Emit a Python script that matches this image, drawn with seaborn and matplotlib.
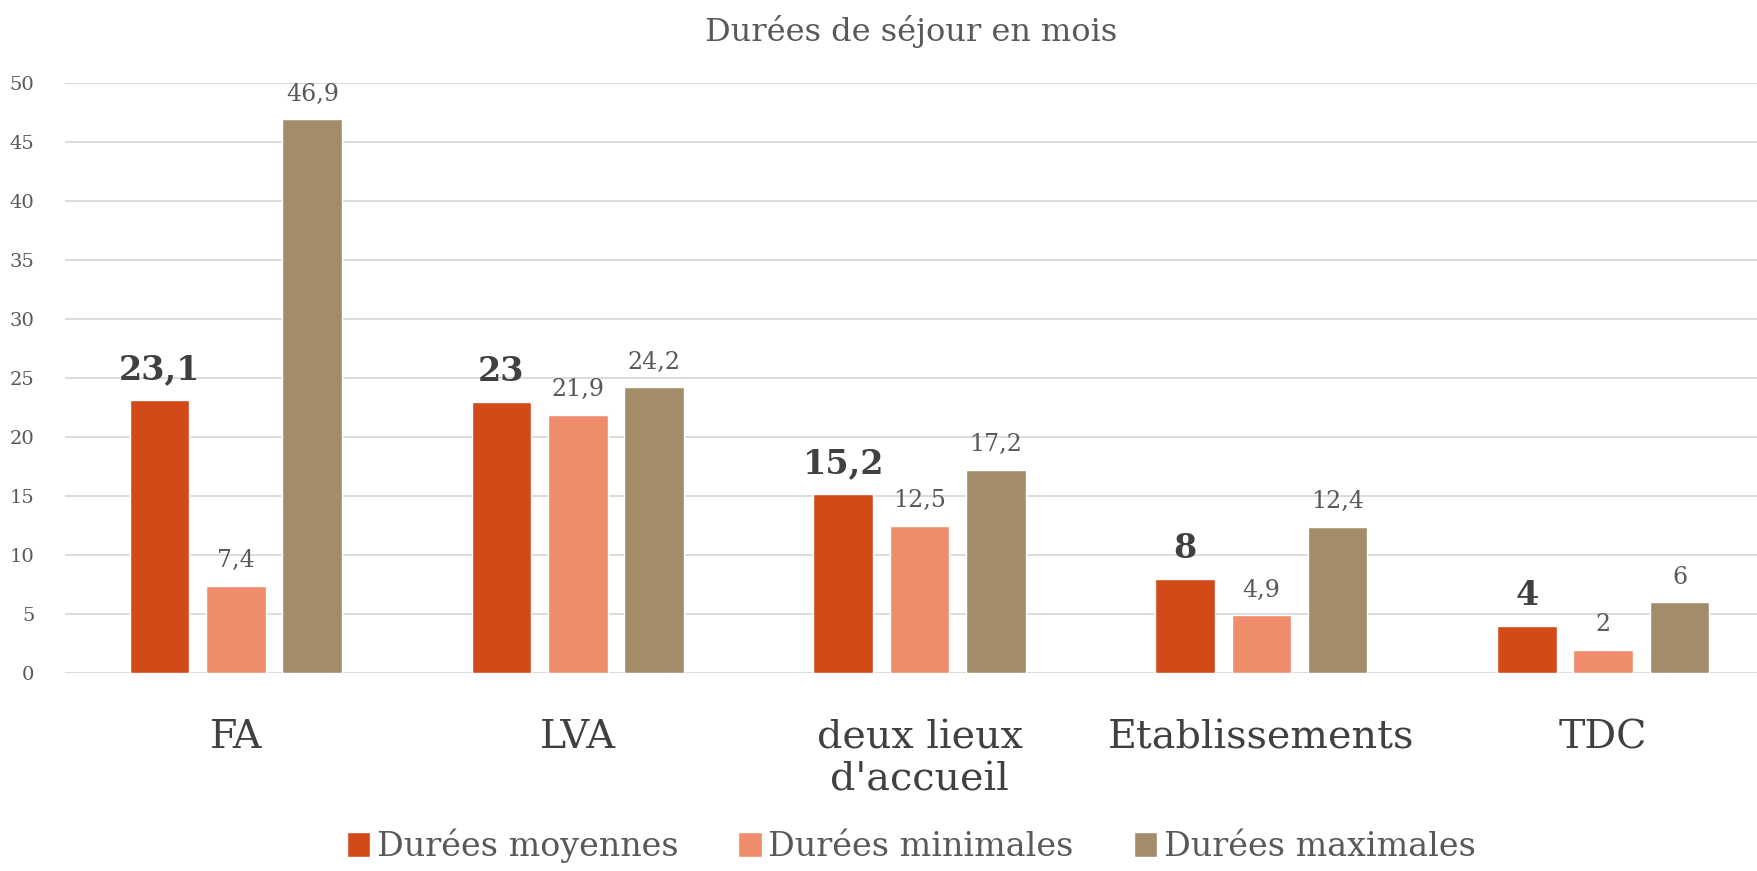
import matplotlib
matplotlib.use("Agg")
import matplotlib.pyplot as plt
import seaborn as sns
import pandas as pd

categories = ["FA", "LVA", "deux lieux\nd'accueil", "Etablissements", "TDC"]
series = ["Durées moyennes", "Durées minimales", "Durées maximales"]
moyennes = [23.1, 23, 15.2, 8, 4]
minimales = [7.4, 21.9, 12.5, 4.9, 2]
maximales = [46.9, 24.2, 17.2, 12.4, 6]
colors = ["#D24A18", "#EF8C6C", "#A38C6A"]
yticks = [0, 5, 10, 15, 20, 25, 30, 35, 40, 45, 50]

rows = []
for s, vals in zip(series, [moyennes, minimales, maximales]):
    for c, v in zip(categories, vals):
        rows.append({"cat": c, "serie": s, "val": v})
df = pd.DataFrame(rows)

sns.set_theme(style="white")
plt.rcParams['font.family'] = ['DejaVu Serif']

fig = plt.figure(figsize=(17.57, 8.71), dpi=100)
ax = fig.add_axes([0.037, 0.227, 0.963, 0.678])
sns.barplot(data=df, x="cat", y="val", hue="serie", palette=colors,
            order=categories, hue_order=series, width=0.67, gap=0.22,
            saturation=1, ax=ax, legend=True)

def fmt(v):
    s = f"{v:g}"
    return s.replace(".", ",")

for i, cont in enumerate(ax.containers):
    if i == 0:
        ax.bar_label(cont, labels=[fmt(v) for v in moyennes], padding=10,
                     fontsize=24, fontweight="bold", color="#404040")
    else:
        vals = minimales if i == 1 else maximales
        ax.bar_label(cont, labels=[fmt(v) for v in vals], padding=10,
                     fontsize=17, color="#595959")

ax.set_ylim(0, 50)
ax.set_xlim(-0.5, 4.45)
ax.set_yticks(yticks)
ax.set_yticklabels([str(t) for t in yticks])
ax.grid(axis="y", color="#d9d9d9", linewidth=1.3)
ax.set_axisbelow(True)
for sp in ax.spines.values():
    sp.set_visible(False)
ax.tick_params(axis="y", length=0, labelsize=14, labelcolor="#595959", pad=22)
ax.tick_params(axis="x", length=0, labelsize=28.5, labelcolor="#404040", pad=33)
ax.set_xlabel("")
ax.set_ylabel("")
ax.set_title("Durées de séjour en mois", fontsize=23, color="#595959",
             fontweight="medium", pad=30)

ax.legend(loc="upper center", bbox_to_anchor=(0.5, -0.229), ncol=3, frameon=False,
          fontsize=24, labelcolor="#595959", handlelength=0.7, handleheight=0.8,
          handletextpad=0.2, columnspacing=1.8, borderaxespad=0.2)

fig.savefig("out.png", dpi=100)
